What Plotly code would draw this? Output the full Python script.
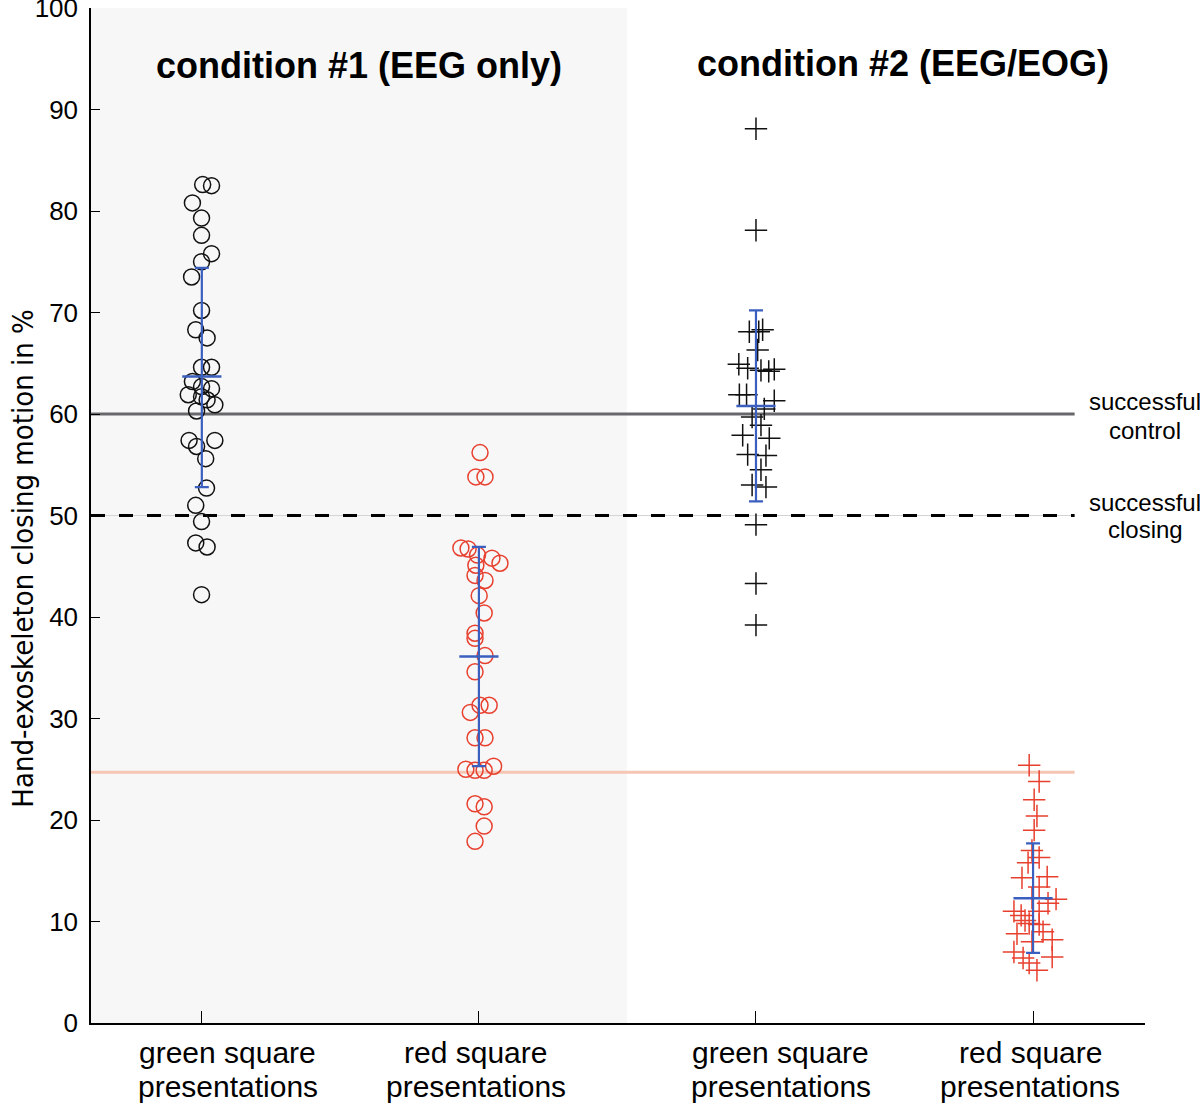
import plotly.graph_objects as go

# group positions on the x axis
positions = [1, 2, 3, 4]
group_line1 = ['green square', 'red square', 'green square', 'red square']
group_line2 = ['presentations'] * 4
condition_titles = ['condition #1 (EEG only)', 'condition #2 (EEG/EOG)']

# condition 1, green square (black circles): values and horizontal jitter
c1_green = [82.6, 82.5, 80.8, 79.3, 77.6, 75.8, 75.0, 73.5, 70.2, 68.3, 67.5, 64.6,
            64.6, 63.2, 62.7, 62.5, 61.9, 61.7, 61.4, 60.9, 60.3, 57.4, 57.4, 56.8,
            55.6, 52.7, 51.0, 49.4, 47.3, 46.9, 42.2]
c1_green_jit = [0.003, 0.035, -0.034, -0.001, -0.001, 0.035, -0.001, -0.037, -0.001,
                -0.022, 0.019, -0.001, 0.035, -0.034, -0.001, 0.035, -0.049, -0.001,
                0.019, 0.047, -0.019, -0.046, 0.047, -0.019, 0.014, 0.017, -0.022,
                -0.001, -0.022, 0.019, -0.001]

# condition 1, red square (red circles)
c1_red = [56.2, 53.8, 53.8, 46.8, 46.7, 46.1, 45.8, 45.3, 45.1, 44.1, 43.6, 42.1, 40.4,
          38.4, 37.9, 36.2, 34.6, 31.3, 31.3, 30.6, 28.1, 28.1, 25.0, 24.9, 24.9, 25.3,
          21.6, 21.3, 19.4, 17.9]
c1_red_jit = [0.004, -0.011, 0.022, -0.065, -0.039, -0.005, 0.047, 0.076, -0.011,
              -0.014, 0.022, 0.001, 0.019, -0.014, -0.014, 0.022, -0.014, 0.004, 0.037,
              -0.031, -0.014, 0.022, -0.047, -0.014, 0.019, 0.053, -0.014, 0.019,
              0.019, -0.014]

# condition 2, green square (black crosses)
c2_green = [88.1, 78.1, 68.1, 68.1, 68.3, 66.3, 64.9, 64.5, 64.3, 64.2, 64.4, 61.9,
            61.9, 61.3, 60.5, 59.7, 58.9, 57.9, 57.6, 56.0, 55.9, 54.5, 53.0, 52.8,
            49.1, 43.3, 39.2]
c2_green_jit = [0.0, 0.0, -0.024, 0.010, 0.024, 0.006, -0.062, -0.030, 0.018, 0.046,
                0.066, -0.060, -0.034, 0.066, 0.030, -0.014, 0.018, -0.048, 0.048,
                -0.030, 0.036, 0.018, -0.014, 0.036, 0.0, 0.0, 0.0]

# condition 2, red square (red crosses)
c2_red = [25.4, 23.8, 22.0, 20.4, 19.0, 17.0, 16.3, 15.8, 14.3, 14.4, 13.4, 12.3, 11.8,
          12.2, 11.0, 10.6, 11.0, 10.1, 9.8, 9.7, 9.0, 8.8, 8.0, 8.2, 7.0, 6.5, 6.4,
          5.2, 5.9]
c2_red_jit = [-0.014, 0.022, 0.004, 0.014, 0.004, -0.004, 0.022, -0.018, -0.040, 0.051,
              0.022, -0.004, 0.054, 0.083, -0.069, -0.043, 0.022, -0.029, -0.014, 0.022,
              0.036, -0.058, -0.004, 0.069, -0.069, 0.069, -0.036, 0.014, -0.014]

# mean and spread (error bars)
means = [63.7, 36.1, 60.8, 12.3]
err_low = [52.8, 25.3, 51.4, 6.9]
err_high = [74.4, 46.9, 70.2, 17.7]

# reference lines
successful_control = 60
successful_closing = 50
safety_threshold = 24.7

BLACK = '#111111'
RED = '#e8402f'
BLUE = '#3a5fbf'
FONT = 'Liberation Sans, Arial, sans-serif'

fig = go.Figure()

groups = [
    (c1_green, c1_green_jit, 'circle-open', BLACK, 16),
    (c1_red, c1_red_jit, 'circle-open', RED, 16),
    (c2_green, c2_green_jit, 'cross-thin-open', BLACK, 16),
    (c2_red, c2_red_jit, 'cross-thin-open', RED, 16),
]
for pos, (vals, jit, sym, col, size) in zip(positions, groups):
    fig.add_trace(go.Scatter(
        x=[pos + j for j in jit], y=vals, mode='markers',
        marker=dict(symbol=sym, size=size, color=col, line=dict(width=1.5, color=col)),
        showlegend=False, cliponaxis=False))

# error bars
fig.add_trace(go.Scatter(
    x=positions, y=means, mode='markers',
    marker=dict(symbol='line-ew', size=28, color=BLUE, line=dict(width=2.5, color=BLUE)),
    error_y=dict(type='data', symmetric=False,
                 array=[h - m for h, m in zip(err_high, means)],
                 arrayminus=[m - l for m, l in zip(means, err_low)],
                 color=BLUE, thickness=2.2, width=7),
    showlegend=False))

line_end = 4.15
shapes = [
    dict(type='rect', xref='x', yref='y', x0=0.6, x1=2.534, y0=0, y1=100,
         fillcolor='#f7f7f7', line=dict(width=0), layer='below'),
    dict(type='line', xref='x', yref='y', x0=0.6, x1=line_end,
         y0=successful_control, y1=successful_control,
         line=dict(color='#68686c', width=3), layer='below'),
    dict(type='line', xref='x', yref='y', x0=0.6, x1=line_end,
         y0=successful_closing, y1=successful_closing,
         line=dict(color='#d4d4d4', width=1), layer='below'),
    dict(type='line', xref='x', yref='y', x0=0.6, x1=line_end,
         y0=successful_closing, y1=successful_closing,
         line=dict(color='black', width=3, dash='14px,14px'), layer='below'),
    dict(type='line', xref='x', yref='y', x0=0.6, x1=line_end,
         y0=safety_threshold, y1=safety_threshold,
         line=dict(color='#f6c6b4', width=3), layer='below'),
]

annotations = []
label_x = [1.094, 1.989, 3.09, 3.989]
for lx, t1, t2 in zip(label_x, group_line1, group_line2):
    for ty, txt in [(-0.0286, t1), (-0.063, t2)]:
        annotations.append(dict(x=lx, y=ty, xref='x', yref='paper', text=txt,
                                showarrow=False, xanchor='center', yanchor='middle',
                                font=dict(family=FONT, size=30, color='black')))
for tx, ty, txt in zip([1.567, 3.531], [94.3, 94.5], condition_titles):
    annotations.append(dict(x=tx, y=ty, xref='x', yref='y', text='<b>%s</b>' % txt,
                            showarrow=False, xanchor='center', yanchor='middle',
                            font=dict(family=FONT, size=36, color='black')))
for tx, ty, txt in [(4.404, 61.2, 'successful'), (4.404, 58.4, 'control'),
                    (4.404, 51.3, 'successful'), (4.404, 48.6, 'closing'),
                    (4.418, 25.9, 'safety'), (4.415, 23.3, 'threshold')]:
    annotations.append(dict(x=tx, y=ty, xref='x', yref='y', text=txt,
                            showarrow=False, xanchor='center', yanchor='middle',
                            font=dict(family=FONT, size=24, color='black')))
annotations.append(dict(x=-0.064, y=0.458, xref='paper', yref='paper',
                        text='Hand-exoskeleton closing motion in %', textangle=-90,
                        showarrow=False, xanchor='center', yanchor='middle',
                        font=dict(family='DejaVu Sans Condensed, ' + FONT, size=29,
                                  color='black')))

fig.update_layout(
    width=1200, height=1103, autosize=False,
    margin=dict(l=91, r=55, t=8, b=80, pad=0),
    paper_bgcolor='white', plot_bgcolor='white',
    shapes=shapes, annotations=annotations,
    xaxis=dict(range=[0.6, 4.404], tickvals=positions, showticklabels=False,
               ticks='inside', ticklen=12, tickcolor='black', tickwidth=1.2,
               showline=True, linecolor='black', linewidth=1.5,
               showgrid=False, zeroline=False, automargin=False),
    yaxis=dict(range=[0, 100], tickvals=list(range(0, 101, 10)),
               ticks='inside', ticklen=9, tickcolor='black', tickwidth=1.2,
               showline=True, linecolor='black', linewidth=1.5,
               showgrid=False, zeroline=False, automargin=False,
               ticklabeloverflow='allow', ticklabelstandoff=6,
               tickfont=dict(family=FONT, size=26, color='black')),
)

# drop the page's default body margin so the figure sits at the window's corner
fig.write_html("out.html", config={'displayModeBar': False},
               post_script="document.body.style.margin = '0';")
